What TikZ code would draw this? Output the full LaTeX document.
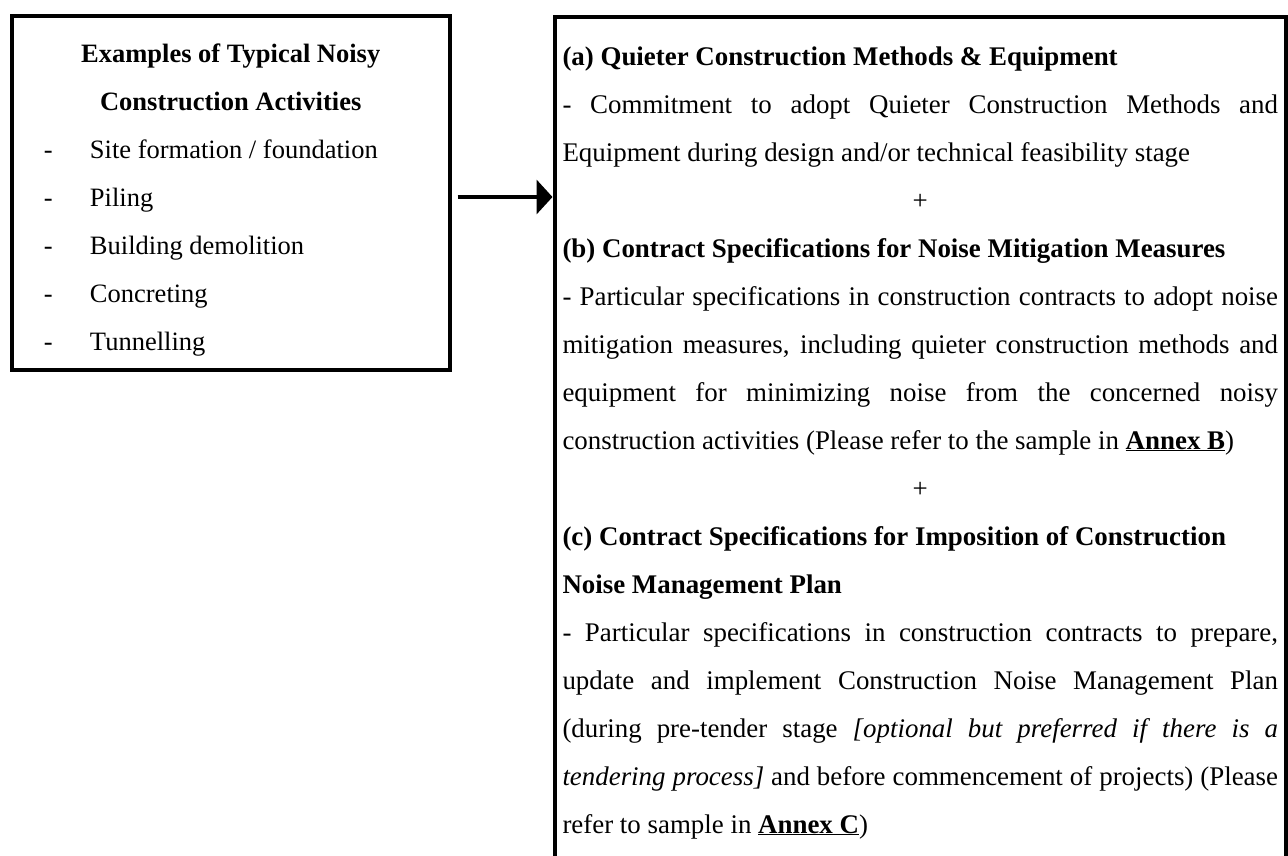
\documentclass[tikz,border=0pt]{standalone}
\usepackage{fontspec}
\setmainfont{Liberation Serif}
\usetikzlibrary{arrows.meta}

\begin{document}
\begin{tikzpicture}[x=1pt,y=-1pt,
  box/.style={draw=black,line width=4pt,inner ysep=0pt,anchor=north west},
  link/.style={line width=4pt,-{Triangle[length=16pt,width=34pt]}}]
\useasboundingbox (0,0) rectangle (1288,855);
\clip (0,0) rectangle (1288,855);
% left box: the activities
\node[box,inner xsep=0pt] (activities) at (10,14) {\parbox[t][354pt][t]{437.5pt}{%
  \fontsize{26.5}{48}\selectfont
  {\centering\bfseries\rule{0pt}{46pt}Examples of Typical Noisy\\Construction Activities\par}
  \hspace*{32pt}\makebox[46pt][l]{-}Site formation / foundation\\
  \hspace*{32pt}\makebox[46pt][l]{-}Piling\\
  \hspace*{32pt}\makebox[46pt][l]{-}Building demolition\\
  \hspace*{32pt}\makebox[46pt][l]{-}Concreting\\
  \hspace*{32pt}\makebox[46pt][l]{-}Tunnelling}};
% right box: the measures (runs past the bottom)
\node[box,inner xsep=8pt] (measures) at (552.5,15) {\parbox[t][885pt][t]{715.5pt}{%
  \fontsize{26.9}{48}\selectfont
  \rule{0pt}{48pt}\textbf{(a) Quieter Construction Methods \& Equipment}\\
  - Commitment to adopt Quieter Construction Methods and\linebreak
  Equipment during design and/or technical feasibility stage\par
  \centerline{+}
  \textbf{(b) Contract Specifications for Noise Mitigation Measures}\\
  - Particular specifications in construction contracts to adopt noise\linebreak
  mitigation measures, including quieter construction methods and\linebreak
  equipment for minimizing noise from the concerned noisy\linebreak
  construction activities (Please refer to the sample in \textbf{\underline{Annex B}})\par
  \centerline{+}
  \textbf{(c) Contract Specifications for Imposition of Construction}\\
  \textbf{Noise Management Plan}\\
  - Particular specifications in construction contracts to prepare,\linebreak
  update and implement Construction Noise Management Plan\linebreak
  (during pre-tender stage \textit{[optional but preferred if there is a}\linebreak
  \textit{tendering process]} and before commencement of projects) (Please\linebreak
  refer to sample in \textbf{\underline{Annex C}})}};
\draw[link,shorten <=6pt] ([yshift=-4pt]activities.east) -- ([yshift=-4pt]activities.east -| measures.west);
\end{tikzpicture}
\end{document}
